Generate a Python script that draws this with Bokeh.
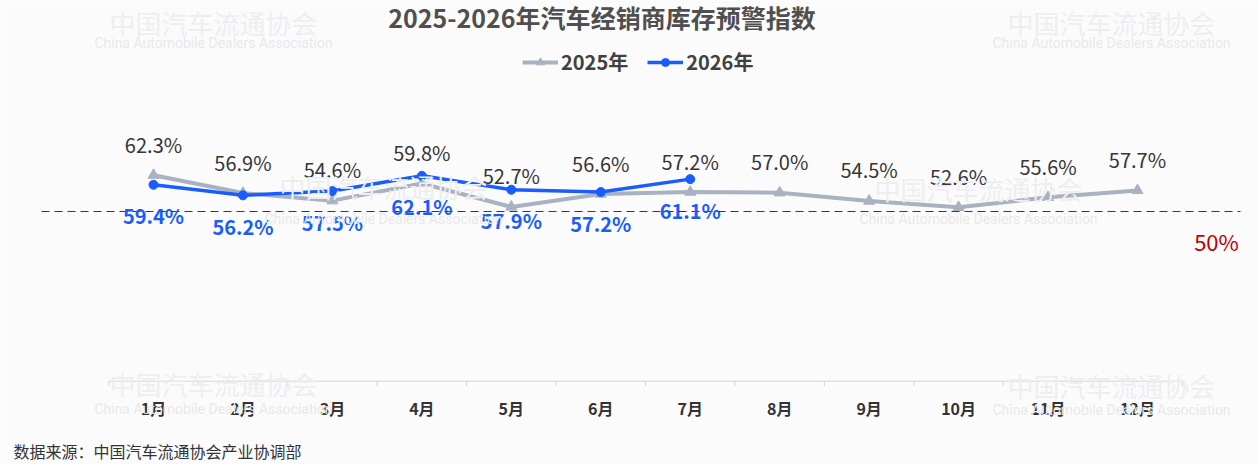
from bokeh.plotting import figure
from bokeh.models import (ColumnDataSource, Range1d, Label, Legend, LegendItem)
from bokeh.core.properties import value
from bokeh.embed import file_html
from bokeh.resources import INLINE

# ---------------- data ----------------
months = ["1月", "2月", "3月", "4月", "5月", "6月",
          "7月", "8月", "9月", "10月", "11月", "12月"]
month_idx = list(range(1, 13))
vals_2025 = [62.3, 56.9, 54.6, 59.8, 52.7, 56.6, 57.2, 57.0, 54.5, 52.6, 55.6, 57.7]
idx_2026 = list(range(1, 8))
vals_2026 = [59.4, 56.2, 57.5, 62.1, 57.9, 57.2, 61.1]
series_names = ["2025年", "2026年"]
warning_level = 50
warning_label = "50%"
title_text = "2025-2026年汽车经销商库存预警指数"
source_text = "数据来源：中国汽车流通协会产业协调部"
wm_cn = "中国汽车流通协会"
wm_en = "China Automobile Dealers Association"

# ---------------- style ----------------
FONT = "Noto Sans CJK SC"
C25 = "#a9b2c0"
C26 = "#1a5cff"
BG = "#fbfbfc"
AXIS_C = "#d6d6d6"

W, H = 1258, 464
p = figure(width=W, height=H, output_backend="svg", toolbar_location=None,
           title=None, x_axis_location=None, y_axis_location=None,
           x_range=Range1d(-0.7105, 13.353), y_range=Range1d(-25.19, 115.12),
           min_border=0)
p.background_fill_color = BG
p.border_fill_color = BG
p.outline_line_color = None
p.grid.visible = False

# watermarks (very faint)
wm_groups = [(213, 22, 42), (1111, 22, 42), (383, 186, 218),
             (978, 188, 218), (213, 383, 408), (1111, 385, 409)]
for cx, ycn, yen in wm_groups:
    p.add_layout(Label(x=cx, y=H - ycn, x_units="screen", y_units="screen",
                       text=wm_cn, text_align="center", text_baseline="middle",
                       text_font=FONT, text_font_size="26px",
                       text_color="#eeeeef"))
    p.add_layout(Label(x=cx, y=H - yen, x_units="screen", y_units="screen",
                       text=wm_en, text_align="center", text_baseline="middle",
                       text_font="Roboto", text_font_size="14px",
                       text_color="#e9e9ea"))

# category axis: baseline, boundary ticks and month labels
bounds = [i - 0.5 for i in month_idx] + [month_idx[-1] + 0.5]
p.segment(x0=[bounds[0]], x1=[bounds[-1]], y0=[0], y1=[0],
          line_color=AXIS_C, line_width=1)
p.segment(x0=bounds, x1=bounds, y0=[0] * len(bounds), y1=[-1.5] * len(bounds),
          line_color=AXIS_C, line_width=1)
p.text(x=month_idx, y=[0] * len(month_idx), text=months, y_offset=27,
       text_align="center", text_baseline="middle",
       text_font=value(FONT), text_font_size="16px", text_font_style="bold",
       text_color="#333333")

# warning reference line
p.extra_y_ranges = {"ref": Range1d(-26.50, 113.80)}
p.segment(x0=[month_idx[0] - 1.252], x1=[month_idx[-1] + 1.152],
          y0=[warning_level], y1=[warning_level], y_range_name="ref",
          line_color="#b80000", line_dash="8 5", line_width=1)
p.text(x=[month_idx[-1]], y=[warning_level], text=[warning_label],
       y_range_name="ref", x_offset=79, y_offset=30,
       text_align="center", text_baseline="middle",
       text_font=value(FONT), text_font_size="22px", text_color="#c00000")

# series
src25 = ColumnDataSource(dict(x=month_idx, y=vals_2025,
                              lab=[f"{v:.1f}%" for v in vals_2025]))
src26 = ColumnDataSource(dict(x=idx_2026, y=vals_2026,
                              lab=[f"{v:.1f}%" for v in vals_2026]))

l25 = p.line("x", "y", source=src25, line_color=C25, line_width=4)
s25 = p.scatter("x", "y", source=src25, marker="triangle", size=11,
                fill_color=C25, line_color=C25)
l26 = p.line("x", "y", source=src26, line_color=C26, line_width=3.5)
s26 = p.scatter("x", "y", source=src26, marker="circle", size=9,
                fill_color=C26, line_color=C26)

p.text("x", "y", text="lab", source=src25, y_offset=-31,
       text_align="center", text_baseline="middle",
       text_font=value(FONT), text_font_size="20px", text_color="#363636")
p.text("x", "y", text="lab", source=src26, y_offset=31,
       text_align="center", text_baseline="middle",
       text_font=value(FONT), text_font_size="20px", text_font_style="bold",
       text_color=C26)

# legend
legend = Legend(items=[LegendItem(label=series_names[0], renderers=[l25, s25]),
                       LegendItem(label=series_names[1], renderers=[l26, s26])],
                orientation="horizontal", location=(522, 388),
                glyph_width=36, glyph_height=20, label_height=20,
                label_standoff=3, spacing=19, padding=0, margin=0,
                border_line_color=None, background_fill_alpha=0,
                label_text_font=FONT, label_text_font_size="20px",
                label_text_font_style="bold", label_text_color="#404040")
p.add_layout(legend)

# title and source note
p.add_layout(Label(x=601.5, y=H - 16, x_units="screen", y_units="screen",
                   text=title_text, text_align="center", text_baseline="middle",
                   text_font=FONT, text_font_size="25px", text_font_style="bold",
                   text_color="#4f4f4f"))
p.add_layout(Label(x=13, y=H - 450, x_units="screen", y_units="screen",
                   text=source_text, text_align="left", text_baseline="middle",
                   text_font=FONT, text_font_size="16px", text_color="#333333"))

open("out.html", "w").write(file_html(p, INLINE))
